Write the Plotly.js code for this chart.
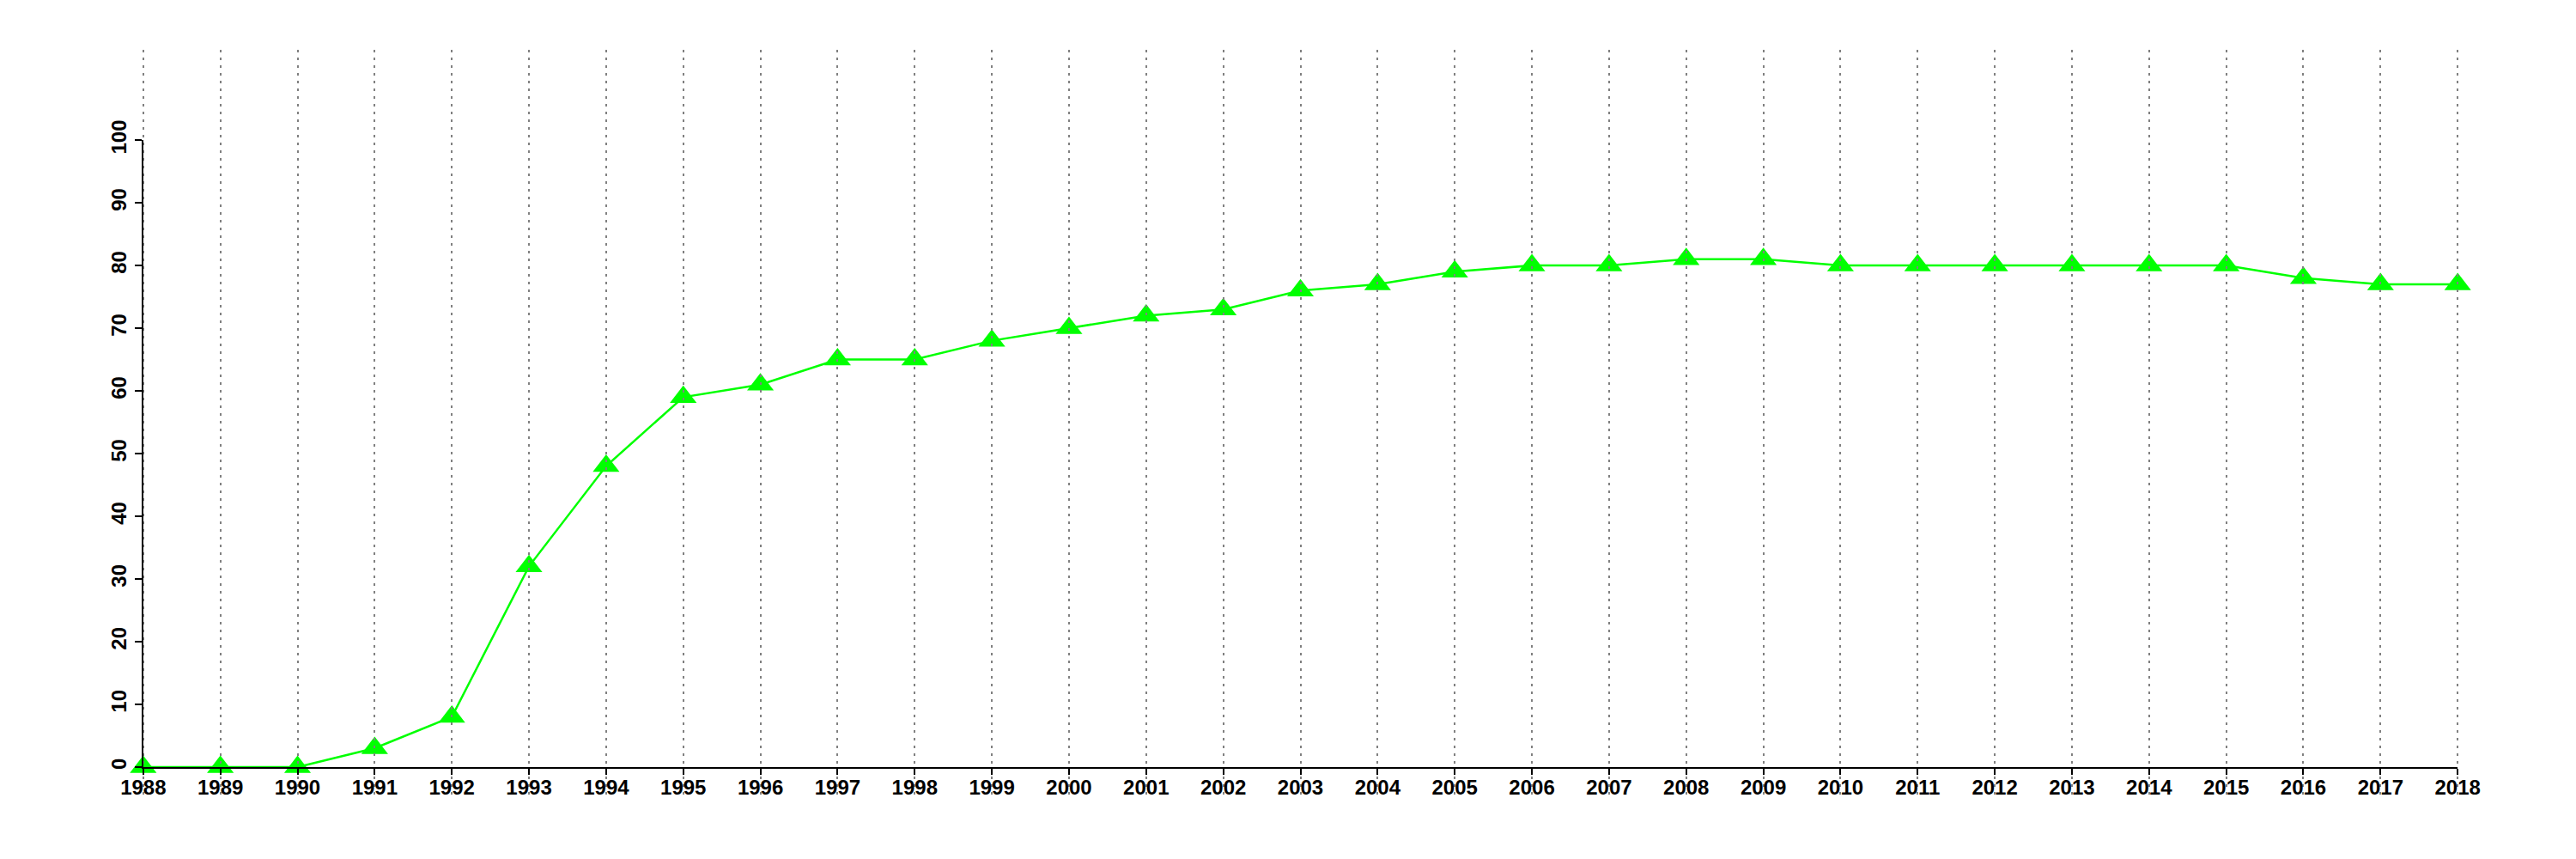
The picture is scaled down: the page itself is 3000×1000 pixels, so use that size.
<!DOCTYPE html>
<html>
<head>
<meta charset="utf-8">
<script src="https://cdn.plot.ly/plotly-3.0.1.min.js"></script>
<style>html,body{margin:0;padding:0;background:#fff;}#chart{width:3000px;height:1000px;}</style>
</head>
<body>
<div id="chart"></div>
<script>
// ---- data ----
var years = [1988,1989,1990,1991,1992,1993,1994,1995,1996,1997,1998,1999,2000,2001,2002,2003,2004,2005,2006,2007,2008,2009,2010,2011,2012,2013,2014,2015,2016,2017,2018];
var values = [0,0,0,3,8,32,48,59,61,65,65,68,70,72,73,76,77,79,80,80,81,81,80,80,80,80,80,80,78,77,77];
var yTicks = [0,10,20,30,40,50,60,70,80,90,100];
var xTickLabels = years.map(String);
var yTickLabels = yTicks.map(String);

// ---- layout helpers ----
var xFull = [1986.8, 2019.2];
var yFull = [-4.4, 114.4];
var xAxisSpan = [1988, 2018];
var yAxisSpan = [0, 100];
function frac(v, r) { return (v - r[0]) / (r[1] - r[0]); }

var fontFam = '"Liberation Sans", Arial, Helvetica, sans-serif';
var tickFont = {family: fontFam, size: 24, color: '#000', weight: 'bold'};

// data trace (bottom subplot)
var trace = {
  x: years, y: values, xaxis: 'x', yaxis: 'y',
  type: 'scatter', mode: 'lines+markers',
  line: {color: '#00FF00', width: 2.5},
  marker: {symbol: 'triangle-up', size: 27, color: '#00FF00', line: {width: 0}},
  cliponaxis: false, hoverinfo: 'none', showlegend: false
};
// carriers (draw nothing) so that the grid and axis subplots exist
var gridCarrier = {x: years, y: values, xaxis: 'x2', yaxis: 'y2', type: 'scatter', mode: 'none', hoverinfo: 'none', showlegend: false};
var axisCarrier = {x: years, y: values, xaxis: 'x3', yaxis: 'y3', type: 'scatter', mode: 'none', hoverinfo: 'none', showlegend: false};

var hidden = {showgrid: false, zeroline: false, showline: false, showticklabels: false, ticks: ''};

var layout = {
  width: 3000, height: 1000,
  margin: {l: 59, r: 30, t: 58, b: 75, pad: 0},
  paper_bgcolor: '#ffffff', plot_bgcolor: 'rgba(0,0,0,0)',
  showlegend: false,
  xaxis: Object.assign({domain: [0, 1], range: xFull, anchor: 'y'}, hidden),
  yaxis: Object.assign({domain: [0, 1], range: yFull, anchor: 'x'}, hidden),
  // grid layer (drawn above the data)
  xaxis2: {
    domain: [0, 1], range: xFull, anchor: 'y2',
    showgrid: true, gridcolor: '#808080', gridwidth: 2, griddash: '3px,6px',
    tickmode: 'array', tickvals: years, showticklabels: false, ticks: '',
    zeroline: false, showline: false
  },
  yaxis2: Object.assign({domain: [0, 1], range: yFull, anchor: 'x2'}, hidden),
  // axis lines, ticks and labels
  xaxis3: {
    domain: [frac(xAxisSpan[0], xFull), frac(xAxisSpan[1], xFull)],
    range: xAxisSpan, anchor: 'y3',
    showgrid: false, zeroline: false,
    showline: true, linecolor: '#000', linewidth: 2,
    ticks: 'outside', ticklen: 7, tickwidth: 2, tickcolor: '#000',
    tickmode: 'array', tickvals: years, ticktext: xTickLabels,
    tickangle: 0, tickfont: tickFont, ticklabelstandoff: -6
  },
  yaxis3: {
    domain: [frac(yAxisSpan[0], yFull), frac(yAxisSpan[1], yFull)],
    range: yAxisSpan, anchor: 'x3',
    showgrid: false, zeroline: false,
    showline: true, linecolor: '#000', linewidth: 2,
    ticks: 'outside', ticklen: 8, tickwidth: 2, tickcolor: '#000',
    tickmode: 'array', tickvals: yTicks, ticktext: yTickLabels,
    tickangle: -90, tickfont: tickFont
  }
};

Plotly.newPlot('chart', [trace, gridCarrier, axisCarrier], layout, {staticPlot: true, displayModeBar: false});
</script>
</body>
</html>
